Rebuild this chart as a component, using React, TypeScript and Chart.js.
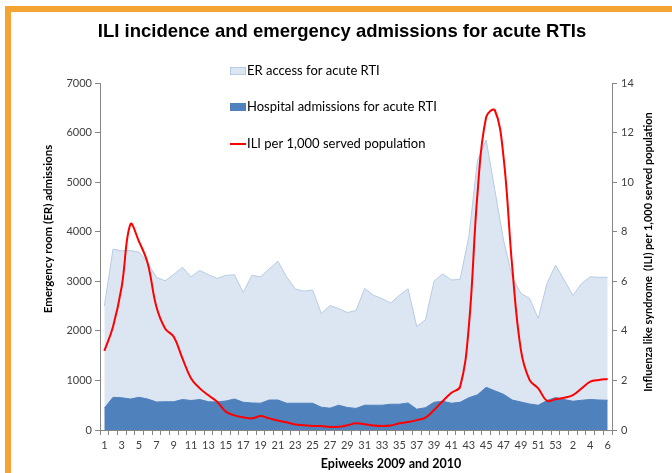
import React, { useEffect, useRef } from 'react';
import { Chart, registerables } from 'chart.js';

Chart.register(...registerables);

// Epiweeks: 2009 weeks 1..53, then 2010 weeks 1..6
const weeks: string[] = [
  '1','2','3','4','5','6','7','8','9','10','11','12','13','14','15','16','17','18','19','20',
  '21','22','23','24','25','26','27','28','29','30','31','32','33','34','35','36','37','38','39','40',
  '41','42','43','44','45','46','47','48','49','50','51','52','53',
  '1','2','3','4','5','6',
];

const erAccess: number[] = [
  2500, 3650, 3615, 3620, 3590, 3370, 3080, 3010, 3140, 3280,
  3090, 3220, 3130, 3060, 3120, 3130, 2775, 3120, 3090, 3250,
  3405, 3090, 2845, 2800, 2825, 2350, 2510, 2450, 2370, 2410,
  2855, 2720, 2650, 2560, 2720, 2850, 2085, 2225, 3005, 3150,
  3025, 3040, 3900, 5440, 5850, 4840, 3830, 3090, 2755, 2655,
  2250, 2955, 3325, 3025, 2715, 2955, 3090, 3080, 3080,
];

const hospital: number[] = [
  440, 660, 650, 625, 660, 625, 565, 570, 570, 615,
  595, 615, 570, 565, 585, 625, 560, 545, 540, 605,
  605, 540, 540, 540, 540, 460, 440, 500, 455, 435,
  500, 500, 500, 520, 520, 545, 420, 450, 560, 580,
  540, 560, 650, 710, 860, 790, 720, 605, 565, 525,
  500, 595, 655, 615, 580, 600, 615, 605, 600,
];

const ili: number[] = [
  3.19, 4.17, 5.78, 8.3, 7.6, 6.72, 4.97, 4.1, 3.76, 2.89,
  2.08, 1.68, 1.4, 1.14, 0.74, 0.59, 0.51, 0.47, 0.56, 0.47,
  0.38, 0.31, 0.22, 0.19, 0.16, 0.16, 0.12, 0.13, 0.19, 0.27,
  0.23, 0.18, 0.16, 0.18, 0.27, 0.32, 0.4, 0.5, 0.81, 1.17,
  1.5, 1.75, 4.17, 9.54, 12.63, 12.9, 11.02, 6.59, 3.23, 2.02,
  1.68, 1.18, 1.24, 1.3, 1.41, 1.68, 1.95, 2.02, 2.06,
];

const leftTicks = { min: 0, max: 7000, step: 1000 };
const rightTicks = { min: 0, max: 14, step: 2 };

const chartTitle = 'ILI incidence and emergency admissions for acute RTIs';
const xTitle = 'Epiweeks 2009 and 2010';
const yTitle = 'Emergency room (ER) admissions';
const y1Title = 'Influenza like syndrome  (ILI) per 1,000 served population';
const legendLabels = [
  'ER access for acute RTI',
  'Hospital admissions for acute RTI',
  'ILI per 1,000 served population',
];

const ER_FILL = '#DCE6F2';
const ER_LINE = '#B7CBE4';
const HOSP = '#4F81BD';
const RED = '#FF0000';
const AXIS = '#868686';
const TICK_TEXT = '#404040';
const FONT = 'Lato, "Open Sans", sans-serif';

const textPlugin = {
  id: 'customText',
  afterDraw(chart: any) {
    const ctx = chart.ctx as CanvasRenderingContext2D;
    const area = chart.chartArea;
    ctx.save();
    // main title
    ctx.fillStyle = '#000';
    ctx.font = 'bold 18.5px "Liberation Sans", Arial, sans-serif';
    ctx.textAlign = 'center';
    ctx.textBaseline = 'alphabetic';
    ctx.fillText(chartTitle, 342, 37);

    // x title
    ctx.font = `bold 12.5px ${FONT}`;
    ctx.textBaseline = 'middle';
    ctx.fillText(xTitle, 391, 464);

    // left y title
    ctx.save();
    ctx.translate(48, 229);
    ctx.rotate(-Math.PI / 2);
    ctx.font = `bold 11.5px ${FONT}`;
    ctx.fillText(yTitle, 0, 0);
    ctx.restore();

    // right y title (reads bottom to top)
    ctx.save();
    ctx.translate(648, 252);
    ctx.rotate(-Math.PI / 2);
    ctx.font = `bold 11px ${FONT}`;
    ctx.fillText(y1Title, 0, 0);
    ctx.restore();

    // legend
    const lx = area.left + 130;
    const rows = [area.top - 12, area.top + 24, area.top + 61];
    ctx.font = `13px ${FONT}`;
    ctx.textAlign = 'left';
    ctx.textBaseline = 'middle';
    // ER
    ctx.fillStyle = ER_FILL;
    ctx.fillRect(lx, rows[0] - 4, 16, 8);
    ctx.strokeStyle = ER_LINE;
    ctx.lineWidth = 1;
    ctx.strokeRect(lx + 0.5, rows[0] - 3.5, 15, 7);
    // Hospital
    ctx.fillStyle = HOSP;
    ctx.fillRect(lx, rows[1] - 4, 16, 8);
    // ILI
    ctx.strokeStyle = RED;
    ctx.lineWidth = 2;
    ctx.beginPath();
    ctx.moveTo(lx, rows[2]);
    ctx.lineTo(lx + 16, rows[2]);
    ctx.stroke();
    ctx.fillStyle = '#000';
    legendLabels.forEach((t, i) => ctx.fillText(t, lx + 17, rows[i]));
    ctx.restore();
  },
};

export default function App() {
  const canvasRef = useRef<HTMLCanvasElement | null>(null);

  useEffect(() => {
    if (!canvasRef.current) return;
    const chart = new Chart(canvasRef.current, {
      type: 'line',
      data: {
        labels: weeks,
        datasets: [
          {
            label: legendLabels[2],
            data: ili,
            yAxisID: 'y1',
            borderColor: RED,
            borderWidth: 2,
            pointRadius: 0,
            tension: 0.4,
            fill: false,
          },
          {
            label: legendLabels[1],
            data: hospital,
            yAxisID: 'y',
            borderColor: HOSP,
            borderWidth: 1,
            backgroundColor: HOSP,
            pointRadius: 0,
            tension: 0,
            fill: 'origin',
          },
          {
            label: legendLabels[0],
            data: erAccess,
            yAxisID: 'y',
            borderColor: ER_LINE,
            borderWidth: 1,
            backgroundColor: ER_FILL,
            pointRadius: 0,
            tension: 0,
            fill: 'origin',
          },
        ],
      },
      options: {
        responsive: false,
        animation: false,
        layout: { padding: { top: 83, left: 0, right: 0, bottom: 0 } },
        plugins: {
          legend: { display: false },
          title: { display: false },
          tooltip: { enabled: false },
        },
        scales: {
          x: {
            type: 'category',
            offset: true,
            grid: {
              display: true,
              offset: true,
              drawOnChartArea: false,
              drawTicks: true,
              tickLength: 5,
              color: AXIS,
            },
            border: { color: AXIS },
            ticks: {
              autoSkip: false,
              maxRotation: 0,
              minRotation: 0,
              padding: 4,
              color: TICK_TEXT,
              font: { family: FONT, size: 11 },
              callback: (_v: any, i: number) => (i % 2 === 0 ? weeks[i] : ''),
            },
            afterFit: (s: any) => {
              s.height = 43;
            },
          },
          y: {
            position: 'left',
            min: leftTicks.min,
            max: leftTicks.max,
            grid: {
              display: true,
              drawOnChartArea: false,
              drawTicks: true,
              tickLength: 5,
              color: AXIS,
            },
            border: { color: AXIS },
            ticks: {
              stepSize: leftTicks.step,
              padding: 3,
              color: TICK_TEXT,
              font: { family: FONT, size: 11 },
              callback: (v: any) => String(v),
            },
            afterFit: (s: any) => {
              s.width = 100;
            },
          },
          y1: {
            position: 'right',
            min: rightTicks.min,
            max: rightTicks.max,
            grid: {
              display: true,
              drawOnChartArea: false,
              drawTicks: true,
              tickLength: 5,
              color: AXIS,
            },
            border: { color: AXIS },
            ticks: {
              stepSize: rightTicks.step,
              padding: 4,
              color: TICK_TEXT,
              font: { family: FONT, size: 11 },
              callback: (v: any) => String(v),
            },
            afterFit: (s: any) => {
              s.width = 60;
            },
          },
        },
      },
      plugins: [textPlugin],
    });
    return () => chart.destroy();
  }, []);

  return (
    <div
      style={{
        position: 'fixed',
        left: 0,
        top: 0,
        width: 672,
        height: 473,
        background: '#fff',
        overflow: 'hidden',
      }}
    >
      <div
        style={{
          position: 'absolute',
          left: 5,
          top: 6,
          width: 700,
          height: 500,
          borderLeft: '6px solid #F4A433',
          borderTop: '6px solid #F4A433',
        }}
      />
      <canvas
        ref={canvasRef}
        width={672}
        height={473}
        style={{ position: 'absolute', left: 0, top: 0, width: 672, height: 473 }}
      />
    </div>
  );
}
